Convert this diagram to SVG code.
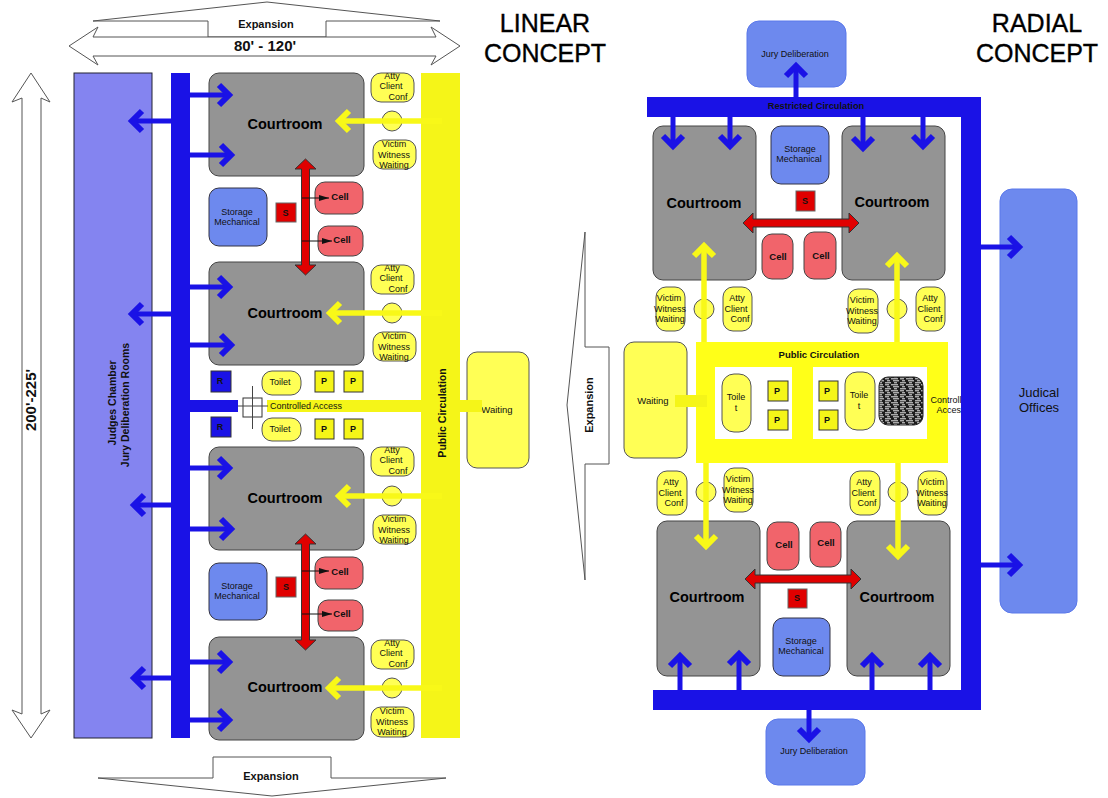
<svg xmlns="http://www.w3.org/2000/svg" width="1108" height="798" viewBox="0 0 1108 798">
<style>
text{font-family:"Liberation Sans",Arial,sans-serif;fill:#111;text-anchor:middle}
.s{font-size:9px}.b{font-weight:bold}
.court{fill:#949494;stroke:#444;stroke-width:1}
.ct{font-size:14.5px;font-weight:bold;fill:#000}
.pill{fill:#ffff55;stroke:#555;stroke-width:1}
.cell{fill:#f1646b;stroke:#444;stroke-width:1}
.store{fill:#6d89ee;stroke:#334;stroke-width:1}
.jury{fill:#6d89ee;stroke:#5a78ea;stroke-width:1}
.sq{fill:#e00000;stroke:#666;stroke-width:1}
.p{fill:#f5f518;stroke:#333;stroke-width:1}
.r{fill:#1a12e6;stroke:#333;stroke-width:1}
.out{fill:#fff;stroke:#555;stroke-width:1}
.red{fill:#e00000;stroke:#333;stroke-width:1}
.ba{stroke:#1a12e6;stroke-width:5;fill:none;marker-end:url(#mb)}
.ya{stroke:#f8f818;stroke-width:5.5;fill:none;marker-end:url(#my)}
.bk{stroke:#111;stroke-width:1;fill:none;marker-end:url(#mk)}
.t{font-size:25px;fill:#000;stroke:#000;stroke-width:.35}
</style>
<defs>
<marker id="mb" markerUnits="userSpaceOnUse" markerWidth="24" markerHeight="36" refX="14" refY="18" orient="auto"><path d="M4,8 L14,18 L4,28" fill="none" stroke="#1a12e6" stroke-width="6"/></marker>
<marker id="my" markerUnits="userSpaceOnUse" markerWidth="24" markerHeight="36" refX="14" refY="18" orient="auto"><path d="M4,8 L14,18 L4,28" fill="none" stroke="#f8f818" stroke-width="6"/></marker>
<marker id="mk" markerUnits="userSpaceOnUse" markerWidth="12" markerHeight="8" refX="10" refY="4" orient="auto"><path d="M0,1 L10,4 L0,7z" fill="#111"/></marker>
<pattern id="hatch" patternUnits="userSpaceOnUse" width="15" height="6"><rect width="15" height="6" fill="#1c1c1c"/><path d="M0,.8h4M6,.8h7M2,2.800h3M8,2.800h6M0,4.800h6M9,4.800h3" stroke="#fff" stroke-width=".9"/></pattern>
</defs>

<g id="title-linear"><text class="t" x="545" y="32">LINEAR</text><text class="t" x="545" y="62">CONCEPT</text></g>
<g id="title-radial"><text class="t" x="1037" y="32">RADIAL</text><text class="t" x="1037" y="62">CONCEPT</text></g>

<g id="expansion-top"><path class="out" d="M93,21 L267,2 L440,21 L326,21 L326,37 L208,37 L208,21Z"/><text class="b" font-size="11" x="266" y="28">Expansion</text></g>
<g id="expansion-bottom"><path class="out" d="M98,778 L272,796 L446,778 L331,778 L331,757 L213,757 L213,778Z"/><text class="b" font-size="11" x="271" y="780">Expansion</text></g>
<g id="dim-width"><path class="out" d="M69,46 L98,27 L93,37 L436,37 L431,27 L460,46 L431,65 L436,56 L93,56 L98,65Z"/><text class="b" font-size="15" fill="#000" x="265" y="51">80' - 120'</text></g>
<g id="dim-height"><path class="out" d="M31,73 L50,102 L41,98 L41,714 L50,710 L31,738 L12,710 L22,714 L22,98 L12,102Z"/><text class="b" font-size="15" transform="translate(36,400) rotate(-90)">200'-225'</text></g>

<g id="judges-chamber"><rect x="74" y="73" width="78" height="665" fill="#8484f0" stroke="#223" stroke-width="1"/><text class="b" font-size="10.500" transform="translate(116,403) rotate(-90)">Judges Chamber</text><text class="b" font-size="10.500" transform="translate(129,405) rotate(-90)">Jury Deliberation Rooms</text></g>
<g id="restricted-linear"><rect x="171" y="73" width="19" height="665" fill="#1a12e6"/></g>
<g id="public-linear"><rect x="421" y="73" width="39" height="665" fill="#f5f518"/></g>
<g id="waiting-linear"><rect class="pill" x="467" y="352" width="62" height="116" rx="10"/><text font-size="9.500" x="497" y="413">Waiting</text></g>

<g id="court-1"><rect class="court" x="209" y="73" width="155" height="103" rx="10"/><text class="ct" x="285" y="129">Courtroom</text></g>
<g id="court-2"><rect class="court" x="209" y="262" width="155" height="103" rx="10"/><text class="ct" x="285" y="318">Courtroom</text></g>
<g id="court-3"><rect class="court" x="209" y="447" width="155" height="103" rx="10"/><text class="ct" x="285" y="503">Courtroom</text></g>
<g id="court-4"><rect class="court" x="209" y="637" width="155" height="103" rx="10"/><text class="ct" x="285" y="692">Courtroom</text></g>

<g id="atty-1" transform="translate(371,73)"><rect class="pill" width="43" height="29" rx="10"/><text class="s" x="21" y="6">Atty</text><text class="s" x="20" y="16">Client</text><text class="s" x="27" y="27">Conf</text></g>
<g id="atty-2" transform="translate(371,265)"><rect class="pill" width="43" height="29" rx="10"/><text class="s" x="21" y="6">Atty</text><text class="s" x="20" y="16">Client</text><text class="s" x="27" y="27">Conf</text></g>
<g id="atty-3" transform="translate(371,447)"><rect class="pill" width="43" height="29" rx="10"/><text class="s" x="21" y="6">Atty</text><text class="s" x="20" y="16">Client</text><text class="s" x="27" y="27">Conf</text></g>
<g id="atty-4" transform="translate(371,640)"><rect class="pill" width="43" height="29" rx="10"/><text class="s" x="21" y="6">Atty</text><text class="s" x="20" y="16">Client</text><text class="s" x="27" y="27">Conf</text></g>
<g id="victim-1" transform="translate(373,140)"><rect class="pill" width="43" height="29" rx="10"/><text class="s" x="21" y="7">Victim</text><text class="s" x="21" y="18">Witness</text><text class="s" x="21" y="28">Waiting</text></g>
<g id="victim-2" transform="translate(373,332)"><rect class="pill" width="43" height="29" rx="10"/><text class="s" x="21" y="7">Victim</text><text class="s" x="21" y="18">Witness</text><text class="s" x="21" y="28">Waiting</text></g>
<g id="victim-3" transform="translate(373,515)"><rect class="pill" width="43" height="29" rx="10"/><text class="s" x="21" y="7">Victim</text><text class="s" x="21" y="18">Witness</text><text class="s" x="21" y="28">Waiting</text></g>
<g id="victim-4" transform="translate(371,707)"><rect class="pill" width="43" height="30" rx="10"/><text class="s" x="21" y="7">Victim</text><text class="s" x="21" y="18">Witness</text><text class="s" x="21" y="28">Waiting</text></g>
<g id="door-1"><circle class="pill" cx="392" cy="121" r="10"/></g>
<g id="door-2"><circle class="pill" cx="392" cy="313" r="10"/></g>
<g id="door-3"><circle class="pill" cx="392" cy="496" r="10"/></g>
<g id="door-4"><circle class="pill" cx="392" cy="688" r="10"/></g>

<g id="storage-l1"><rect class="store" x="209" y="188" width="58" height="58" rx="10"/><text class="s" x="237" y="215">Storage</text><text class="s" x="237" y="225">Mechanical</text></g>
<g id="storage-l2"><rect class="store" x="209" y="563" width="58" height="57" rx="10"/><text class="s" x="237" y="589">Storage</text><text class="s" x="237" y="599">Mechanical</text></g>
<g id="s-l1"><rect class="sq" x="276" y="203" width="20" height="19"/><text class="b" font-size="9" x="285.500" y="216">S</text></g>
<g id="s-l2"><rect class="sq" x="276" y="577" width="20" height="20"/><text class="b" font-size="9" x="286" y="590">S</text></g>
<g id="cell-l1"><rect class="cell" x="315" y="182" width="48" height="32" rx="10"/><text class="b" font-size="9.500" x="340" y="200">Cell</text></g>
<g id="cell-l2"><rect class="cell" x="318" y="226" width="45" height="30" rx="10"/><text class="b" font-size="9.500" x="342" y="243">Cell</text></g>
<g id="cell-l3"><rect class="cell" x="315" y="557" width="48" height="32" rx="10"/><text class="b" font-size="9.500" x="340" y="575">Cell</text></g>
<g id="cell-l4"><rect class="cell" x="318" y="600" width="45" height="31" rx="10"/><text class="b" font-size="9.500" x="342" y="617">Cell</text></g>

<g id="r-1"><rect class="r" x="211" y="371" width="20" height="21"/><text class="b" font-size="9" x="220" y="384">R</text></g>
<g id="r-2"><rect class="r" x="211" y="417" width="20" height="20"/><text class="b" font-size="9" x="220" y="430">R</text></g>
<g id="toilet-l1"><rect class="pill" x="262" y="371" width="39" height="24" rx="10"/><text class="s" x="280" y="385">Toilet</text></g>
<g id="toilet-l2"><rect class="pill" x="262" y="418" width="39" height="23" rx="10"/><text class="s" x="280" y="432">Toilet</text></g>
<g id="p-l1"><rect class="p" x="315" y="371" width="19" height="21"/><text class="b" font-size="9" x="324" y="384">P</text></g>
<g id="p-l2"><rect class="p" x="344" y="371" width="19" height="21"/><text class="b" font-size="9" x="353" y="384">P</text></g>
<g id="p-l3"><rect class="p" x="315" y="419" width="19" height="20"/><text class="b" font-size="9" x="324" y="432">P</text></g>
<g id="p-l4"><rect class="p" x="344" y="419" width="19" height="20"/><text class="b" font-size="9" x="353" y="432">P</text></g>
<g id="controlled-access-linear"><rect x="190" y="400" width="48" height="12" fill="#1a12e6"/><rect x="267" y="400" width="215" height="12" fill="#f5f518"/><rect x="243" y="398" width="19" height="19" fill="#fff" stroke="#333"/><path d="M252.500,386V429M238,406H268" stroke="#444" fill="none"/><text class="s" x="306" y="409">Controlled Access</text></g>
<g id="public-label-linear"><text class="b" font-size="10.500" transform="translate(446,413) rotate(-90)">Public Circulation</text></g>

<g id="expansion-right"><path class="out" d="M585,232 L567,405 L585,580 L585,464 L609,464 L609,347 L585,347Z"/><text class="b" font-size="11" transform="translate(593,405) rotate(-90)">Expansion</text></g>

<g id="public-radial"><rect x="696" y="342" width="252" height="121" fill="#ffff18"/><rect x="715" y="367" width="77" height="72" fill="#fff"/><rect x="813" y="367" width="114" height="72" fill="#fff"/><text class="b" font-size="9.500" x="819" y="358">Public Circulation</text></g>
<g id="waiting-radial"><rect class="pill" x="624" y="342" width="63" height="116" rx="10"/><text font-size="9.500" x="653" y="404">Waiting</text></g>
<g id="toilet-r1"><rect class="pill" x="722" y="374" width="29" height="58" rx="12"/><text class="s" x="736" y="400">Toile</text><text class="s" x="736" y="411">t</text></g>
<g id="toilet-r2"><rect class="pill" x="845" y="372" width="30" height="58" rx="12"/><text class="s" x="859" y="398">Toile</text><text class="s" x="859" y="409">t</text></g>
<g id="p-r1"><rect class="p" x="768" y="381" width="20" height="20"/><text class="b" font-size="9" x="777" y="394">P</text></g>
<g id="p-r2"><rect class="p" x="768" y="410" width="20" height="20"/><text class="b" font-size="9" x="777" y="423">P</text></g>
<g id="p-r3"><rect class="p" x="819" y="381" width="19" height="20"/><text class="b" font-size="9" x="827" y="394">P</text></g>
<g id="p-r4"><rect class="p" x="819" y="410" width="19" height="20"/><text class="b" font-size="9" x="827" y="423">P</text></g>
<g id="hatch-block"><rect x="879" y="377" width="44" height="48" rx="9" fill="url(#hatch)" stroke="#222"/></g>
<g id="controlled-access-radial"><text class="s" x="951" y="403">Controlled</text><text class="s" x="951" y="413">Access</text></g>

<g id="restricted-radial"><rect x="647" y="97" width="334" height="20" fill="#1a12e6"/><rect x="961" y="97" width="20" height="613" fill="#1a12e6"/><rect x="653" y="690" width="328" height="20" fill="#1a12e6"/><text class="b" font-size="9.300" x="816" y="109">Restricted Circulation</text></g>
<g id="jury-top"><rect class="jury" x="747" y="21" width="99" height="66" rx="12"/><text class="s" x="795" y="57">Jury Deliberation</text></g>
<g id="jury-bottom"><rect class="jury" x="766" y="719" width="99" height="66" rx="12"/><text class="s" x="814" y="754">Jury Deliberation</text></g>
<g id="judicial-offices"><rect class="jury" x="1000" y="189" width="77" height="424" rx="12"/><text font-size="13" x="1039" y="397">Judical</text><text font-size="13" x="1039" y="412">Offices</text></g>

<g id="court-r1"><rect class="court" x="653" y="126" width="103" height="154" rx="10"/><text class="ct" x="704" y="208">Courtroom</text></g>
<g id="court-r2"><rect class="court" x="842" y="126" width="103" height="154" rx="10"/><text class="ct" x="892" y="207">Courtroom</text></g>
<g id="court-r3"><rect class="court" x="657" y="521" width="103" height="155" rx="10"/><text class="ct" x="707" y="602">Courtroom</text></g>
<g id="court-r4"><rect class="court" x="847" y="521" width="103" height="155" rx="10"/><text class="ct" x="897" y="602">Courtroom</text></g>
<g id="storage-r1"><rect class="store" x="771" y="126" width="58" height="58" rx="10"/><text class="s" x="800" y="152">Storage</text><text class="s" x="799" y="162">Mechanical</text></g>
<g id="storage-r2"><rect class="store" x="773" y="618" width="57" height="58" rx="10"/><text class="s" x="801" y="644">Storage</text><text class="s" x="801" y="654">Mechanical</text></g>
<g id="s-r1"><rect class="sq" x="796" y="191" width="19" height="20"/><text class="b" font-size="9" x="805" y="204">S</text></g>
<g id="s-r2"><rect class="sq" x="788" y="589" width="19" height="19"/><text class="b" font-size="9" x="797" y="601">S</text></g>
<g id="cell-r1"><rect class="cell" x="762" y="234" width="31" height="45" rx="10"/><text class="b" font-size="9.500" x="778" y="260">Cell</text></g>
<g id="cell-r2"><rect class="cell" x="804" y="232" width="32" height="47" rx="10"/><text class="b" font-size="9.500" x="821" y="259">Cell</text></g>
<g id="cell-r3"><rect class="cell" x="767" y="522" width="32" height="48" rx="10"/><text class="b" font-size="9.500" x="784" y="548">Cell</text></g>
<g id="cell-r4"><rect class="cell" x="810" y="522" width="31" height="45" rx="10"/><text class="b" font-size="9.500" x="826" y="546">Cell</text></g>

<g id="victim-r1" transform="translate(656,287)"><rect class="pill" width="29" height="44" rx="10"/><text class="s" x="13" y="14">Victim</text><text class="s" x="14" y="25">Witness</text><text class="s" x="14" y="35">Waiting</text></g>
<g id="atty-r1" transform="translate(723,287)"><rect class="pill" width="29" height="44" rx="10"/><text class="s" x="14" y="14">Atty</text><text class="s" x="13" y="25">Client</text><text class="s" x="17" y="35">Conf</text></g>
<g id="victim-r2" transform="translate(848,289)"><rect class="pill" width="30" height="44" rx="10"/><text class="s" x="14" y="14">Victim</text><text class="s" x="14" y="25">Witness</text><text class="s" x="14" y="35">Waiting</text></g>
<g id="atty-r2" transform="translate(916,287)"><rect class="pill" width="29" height="44" rx="10"/><text class="s" x="14" y="14">Atty</text><text class="s" x="13" y="25">Client</text><text class="s" x="17" y="35">Conf</text></g>
<g id="atty-r3" transform="translate(657,471)"><rect class="pill" width="30" height="44" rx="10"/><text class="s" x="14" y="14">Atty</text><text class="s" x="13" y="25">Client</text><text class="s" x="17" y="35">Conf</text></g>
<g id="victim-r3" transform="translate(724,468)"><rect class="pill" width="29" height="44" rx="10"/><text class="s" x="14" y="14">Victim</text><text class="s" x="14" y="25">Witness</text><text class="s" x="14" y="35">Waiting</text></g>
<g id="atty-r4" transform="translate(850,471)"><rect class="pill" width="30" height="44" rx="10"/><text class="s" x="14" y="14">Atty</text><text class="s" x="13" y="25">Client</text><text class="s" x="17" y="35">Conf</text></g>
<g id="victim-r4" transform="translate(918,471)"><rect class="pill" width="29" height="44" rx="10"/><text class="s" x="14" y="14">Victim</text><text class="s" x="14" y="25">Witness</text><text class="s" x="14" y="35">Waiting</text></g>
<g id="door-r1"><circle class="pill" cx="704" cy="309" r="10"/></g>
<g id="door-r2"><circle class="pill" cx="897" cy="309" r="10"/></g>
<g id="door-r3"><circle class="pill" cx="706" cy="492" r="10"/></g>
<g id="door-r4"><circle class="pill" cx="898" cy="492" r="10"/></g>

<g id="connectors">
<path class="ba" d="M180,95H229"/><path class="ba" d="M182,155H231"/><path class="ba" d="M180,121H132"/>
<path class="ba" d="M180,287H229"/><path class="ba" d="M182,345H231"/><path class="ba" d="M180,314H132"/>
<path class="ba" d="M180,468H229"/><path class="ba" d="M182,529H231"/><path class="ba" d="M180,505H134"/>
<path class="ba" d="M180,662H229"/><path class="ba" d="M180,720H229"/><path class="ba" d="M183,678H134"/>
<path class="ya" d="M442,121H339"/><path class="ya" d="M442,313H330"/><path class="ya" d="M442,496H339"/><path class="ya" d="M442,688H329"/>
<path class="red" d="M305.500,159 L316,169 L309.500,169 L309.500,265 L316,265 L305.500,275 L295,265 L301.500,265 L301.500,169 L295,169Z"/>
<path class="red" d="M305.500,534 L316,544 L309.500,544 L309.500,640 L316,640 L305.500,650 L295,640 L301.500,640 L301.500,544 L295,544Z"/>
<path class="bk" d="M302,198H329"/><path class="bk" d="M302,241H332"/><path class="bk" d="M302,571H329"/><path class="bk" d="M302,614H332"/>
<path d="M458,406H482" stroke="#f5f518" stroke-width="12" fill="none"/>

<path d="M675,401H707" stroke="#f5f518" stroke-width="12" fill="none"/>
<path class="ya" d="M704,342V246"/><path class="ya" d="M897,342V256"/><path class="ya" d="M706,463V546"/><path class="ya" d="M898,463V556"/>
<path class="ba" d="M673,117V146"/><path class="ba" d="M730,117V146"/><path class="ba" d="M863,117V148"/><path class="ba" d="M923,117V146"/>
<path class="ba" d="M796,97V66"/><path class="ba" d="M680,690V656"/><path class="ba" d="M739,690V654"/><path class="ba" d="M872,690V656"/><path class="ba" d="M930,690V656"/><path class="ba" d="M809,704V739"/>
<path class="ba" d="M981,247H1019"/><path class="ba" d="M981,565H1019"/>
<path class="red" d="M743,223 L753,213 L753,219 L849,219 L849,213 L859,223 L849,233 L849,227 L753,227 L753,233Z"/>
<path class="red" d="M745,579 L755,569 L755,575 L851,575 L851,569 L861,579 L851,589 L851,583 L755,583 L755,589Z"/>
</g>
</svg>
